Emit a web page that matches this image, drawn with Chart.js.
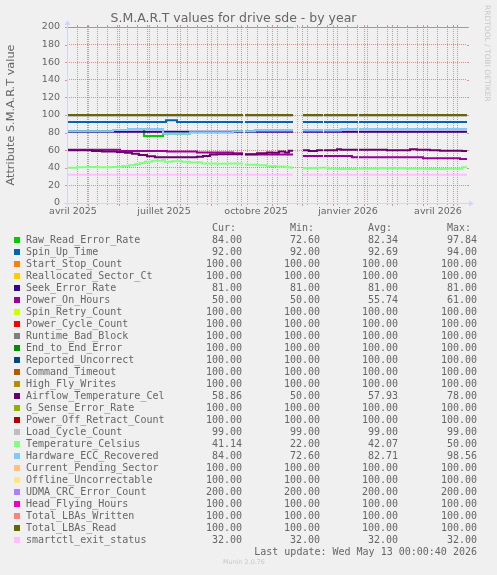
<!DOCTYPE html>
<html>
<head>
<meta charset="utf-8">
<title>S.M.A.R.T values for drive sde - by year</title>
<script src="https://cdn.jsdelivr.net/npm/chart.js@4.4.1/dist/chart.umd.min.js"></script>
<style>
  html, body { margin: 0; padding: 0; background: #f0f0f0; }
  #wrap { position: relative; width: 497px; height: 575px; overflow: hidden; color: #666; font-family: "DejaVu Sans", sans-serif; }
  #c { position: absolute; left: 0; top: 0; }
  #rrd { position: absolute; left: 487px; top: 5px; transform-origin: 0 0; transform: rotate(90deg) translateY(-50%);
         font-size: 7.5px; color: #c8c8c8; white-space: nowrap; line-height: 1; }
  #legend { position: absolute; left: 0; top: 0; width: 497px; height: 575px; font-family: "DejaVu Sans Mono", monospace; font-size: 10px; }
  .t { position: absolute; white-space: pre; line-height: 12px; height: 12px; }
  .r { text-align: right; }
  .sw { position: absolute; width: 6px; height: 6px; }
  #munin { position: absolute; top: 558px; left: 0; width: 488px; text-align: center; font-size: 6.4px; color: #c8c8c8; }
</style>
</head>
<body>
<div id="wrap">
  <canvas id="c" width="497" height="222"></canvas>
  <div id="rrd">RRDTOOL / TOBI OETIKER</div>
  <div id="legend"></div>
  <div id="munin">Munin 2.0.76</div>
</div>
<script>
// ---- data (x = days since 10 Apr 2025, one pixel per day) ----
const DAYS = 400;
const gaps = [[176, 178], [226, 236], [256, 257], [291, 292]];

const seriesNames = [
  'Raw_Read_Error_Rate', 'Spin_Up_Time', 'Start_Stop_Count', 'Reallocated_Sector_Ct',
  'Seek_Error_Rate', 'Power_On_Hours', 'Spin_Retry_Count', 'Power_Cycle_Count',
  'Runtime_Bad_Block', 'End_to_End_Error', 'Reported_Uncorrect', 'Command_Timeout',
  'High_Fly_Writes', 'Airflow_Temperature_Cel', 'G_Sense_Error_Rate', 'Power_Off_Retract_Count',
  'Load_Cycle_Count', 'Temperature_Celsius', 'Hardware_ECC_Recovered', 'Current_Pending_Sector',
  'Offline_Uncorrectable', 'UDMA_CRC_Error_Count', 'Head_Flying_Hours', 'Total_LBAs_Written',
  'Total_LBAs_Read', 'smartctl_exit_status'
];
const seriesColors = [
  '#00CC00', '#0066B3', '#FF8000', '#FFCC00', '#330099', '#990099', '#CCFF00', '#FF0000',
  '#808080', '#008F00', '#00487D', '#B35A00', '#B38F00', '#6B006B', '#8FB300', '#B30000',
  '#BEBEBE', '#80FF80', '#80C9FF', '#FFC080', '#FFE680', '#AA80FF', '#EE00CC', '#FF8080',
  '#666600', '#FFBFFF'
];
const curVals = [84, 92, 100, 100, 81, 50, 100, 100, 100, 100, 100, 100, 100, 58.86, 100, 100, 99, 41.14, 84, 100, 100, 200, 100, 100, 100, 32];
const minVals = [72.6, 92, 100, 100, 81, 50, 100, 100, 100, 100, 100, 100, 100, 50, 100, 100, 99, 22, 72.6, 100, 100, 200, 100, 100, 100, 32];
const avgVals = [82.34, 92.69, 100, 100, 81, 55.74, 100, 100, 100, 100, 100, 100, 100, 57.93, 100, 100, 99, 42.07, 82.71, 100, 100, 200, 100, 100, 100, 32];
const maxVals = [97.84, 94, 100, 100, 81, 61, 100, 100, 100, 100, 100, 100, 100, 78, 100, 100, 99, 50, 98.56, 100, 100, 200, 100, 100, 100, 32];

// runs: [first day, value] - value holds until the next run starts
const rawReadRuns = [[0, 81.5], [46, 83], [61, 84], [77, 76], [96, 79], [123, 80.5], [166, 81.5], [188, 82.5], [274, 84]];
const spinUpRuns = [[0, 92], [99, 94], [110, 92]];
const seekRuns = [[0, 81]];
const powerOnRuns = [[0, 60.5], [53, 59], [100, 58.5], [130, 57.5], [166, 56.5], [178, 55], [236, 53.5], [285, 52], [356, 50.8], [393, 50]];
const airflowRuns = [[0, 60], [25, 59], [35, 58.5], [50, 58], [58, 57], [65, 56], [72, 54.5], [80, 53], [88, 52], [130, 52.5],
  [136, 53.5], [143, 55], [150, 55.5], [190, 56.5], [200, 57.5], [205, 57], [212, 58.5], [218, 57.5], [222, 59.5],
  [236, 60], [242, 59], [250, 60], [270, 61], [274, 60.5], [320, 60], [343, 61], [350, 60.5], [363, 60], [373, 59.5], [395, 59]];
const loadCycleRuns = [[0, 99]];
const temperatureRuns = [[0, 40], [10, 40.5], [20, 41], [30, 40.5], [45, 41], [55, 42], [62, 43], [68, 44], [73, 45.5], [78, 47],
  [85, 48], [95, 49], [98, 47], [105, 47.5], [115, 47], [123, 46], [135, 45], [150, 44.5], [160, 45], [178, 43.5], [190, 43],
  [200, 42], [210, 41.5], [218, 40.5], [224, 40], [236, 39.5], [250, 40], [262, 39], [270, 38.5], [290, 39], [310, 39.5],
  [340, 39], [360, 38.5], [380, 39], [395, 40.5]];
const eccRuns = [[0, 81.5], [46, 83], [61, 84], [96, 79], [123, 80.5], [166, 81.5], [188, 82.5], [274, 84]];
const udmaRuns = [[0, 200]];
const exitStatusRuns = [[0, 32]];
const flatRuns = [[0, 100]];

const seriesRuns = [
  rawReadRuns, spinUpRuns, flatRuns, flatRuns, seekRuns, powerOnRuns, flatRuns, flatRuns,
  flatRuns, flatRuns, flatRuns, flatRuns, flatRuns, airflowRuns, flatRuns, flatRuns,
  loadCycleRuns, temperatureRuns, eccRuns, flatRuns, flatRuns, udmaRuns, flatRuns, flatRuns,
  flatRuns, exitStatusRuns
];

// x axis: month starts (major grid), 10-day minor grid, labels mid-month every 3 months
const monthStarts = [21, 52, 82, 113, 144, 174, 205, 235, 266, 297, 325, 356, 386];
const MINOR_STEP = 10;
const labelDays = [6, 97, 189, 281, 371];
const labelTexts = ['avril 2025', 'juillet 2025', 'octobre 2025', 'janvier 2026', 'avril 2026'];

const minorDays = [];
for (let d = MINOR_STEP; d < DAYS; d += MINOR_STEP) minorDays.push(d);

// rrdtool default grid colours, munin axis colour
const MGRID = 'rgba(222,79,79,0.6)';
const GRID = 'rgba(143,143,143,0.75)';
const AXIS = '#CFD6F8';

function buildPoints(runs) {
  const pts = [];
  let last = null;
  runs.forEach(([s, v], i) => {
    const e = i + 1 < runs.length ? runs[i + 1][0] : DAYS;
    let cur = s;
    for (const [g0, g1] of gaps) {
      if (g1 <= cur || g0 >= e) continue;
      if (g0 > cur) { pts.push({ x: cur, y: v }); pts.push({ x: g0, y: v }); }
      pts.push({ x: g0, y: null });
      cur = Math.max(cur, g1);
    }
    if (cur < e) { pts.push({ x: cur, y: v }); last = v; } else { last = null; }
  });
  if (last !== null) pts.push({ x: DAYS, y: last });
  return pts;
}

const datasets = seriesNames.map((name, i) => ({
  label: name,
  data: buildPoints(seriesRuns[i]),
  borderColor: seriesColors[i],
  backgroundColor: seriesColors[i],
  borderWidth: 2,
  stepped: 'before',
  pointRadius: 0,
  order: -i
}));

function gridColorX(v) {
  if (monthStarts.includes(v)) return MGRID;
  if (minorDays.includes(v)) return GRID;
  return null;
}
function gridColorY(v) {
  if (v === 0) return null;
  return v % 20 === 0 ? MGRID : GRID;
}

// small solid ticks at both ends of every grid line, as rrdtool draws them
const rrdTicks = {
  id: 'rrdTicks',
  beforeDatasetsDraw(chart) {
    const { ctx, chartArea: a, scales } = chart;
    ctx.save();
    ctx.lineWidth = 1;
    scales.x.ticks.forEach((t) => {
      const c = gridColorX(t.value);
      if (!c) return;
      const px = Math.round(scales.x.getPixelForValue(t.value)) + 0.5;
      ctx.strokeStyle = c;
      ctx.beginPath();
      ctx.moveTo(px, a.top - 2); ctx.lineTo(px, a.top);
      ctx.moveTo(px, a.bottom); ctx.lineTo(px, a.bottom + (c === MGRID ? 3 : 2));
      ctx.stroke();
    });
    scales.y.ticks.forEach((t) => {
      const c = gridColorY(t.value);
      if (!c) return;
      const py = Math.round(scales.y.getPixelForValue(t.value)) + 0.5;
      ctx.strokeStyle = c;
      ctx.beginPath();
      ctx.moveTo(a.left - 2, py); ctx.lineTo(a.left, py);
      ctx.moveTo(a.right, py); ctx.lineTo(a.right + 2, py);
      ctx.stroke();
    });
    ctx.restore();
  },
  afterDatasetsDraw(chart) {
    const { ctx, chartArea: a } = chart;
    const x0 = Math.round(a.left) + 0.5, y0 = Math.round(a.bottom) + 0.5;
    ctx.save();
    ctx.strokeStyle = AXIS;
    ctx.fillStyle = AXIS;
    ctx.lineWidth = 1;
    ctx.beginPath();
    ctx.moveTo(x0, a.bottom + 3); ctx.lineTo(x0, a.top - 3);
    ctx.moveTo(a.left - 3, y0); ctx.lineTo(a.right + 3, y0);
    ctx.stroke();
    ctx.beginPath();
    ctx.moveTo(x0 - 3, a.top - 2); ctx.lineTo(x0 + 3, a.top - 2); ctx.lineTo(x0, a.top - 7); ctx.closePath();
    ctx.moveTo(a.right + 2, y0 - 3); ctx.lineTo(a.right + 2, y0 + 3); ctx.lineTo(a.right + 7, y0); ctx.closePath();
    ctx.fill();
    ctx.restore();
  }
};

const tickFont = { family: 'DejaVu Sans', size: 9.5 };

new Chart(document.getElementById('c'), {
  type: 'line',
  data: { datasets },
  options: {
    responsive: false,
    animation: false,
    devicePixelRatio: 1,
    events: [],
    layout: { padding: { left: 0, right: 30, top: 0, bottom: 0 } },
    plugins: {
      legend: { display: false },
      tooltip: { enabled: false },
      title: {
        display: true,
        text: 'S.M.A.R.T values for drive sde - by year',
        color: '#666',
        font: { family: 'DejaVu Sans', size: 12.5, weight: 'normal' },
        padding: { top: 11, bottom: 1 }
      }
    },
    scales: {
      x: {
        type: 'linear',
        min: 0,
        max: DAYS,
        afterBuildTicks: (s) => {
          const vals = [...new Set([...monthStarts, ...minorDays, ...labelDays])].sort((p, q) => p - q);
          s.ticks = vals.map((v) => ({ value: v }));
        },
        afterFit: (s) => { s.height = 19; },
        ticks: {
          autoSkip: false,
          maxRotation: 0,
          padding: 3,
          color: '#666',
          font: tickFont,
          callback: (v) => { const k = labelDays.indexOf(v); return k >= 0 ? labelTexts[k] : ''; }
        },
        grid: {
          drawTicks: false,
          lineWidth: 1,
          color: (ctx) => gridColorX(ctx.tick && ctx.tick.value) || 'rgba(0,0,0,0)'
        },
        border: { display: false, dash: [1, 1] }
      },
      y: {
        min: 0,
        max: 200,
        afterFit: (s) => { s.width = 67; },
        ticks: {
          stepSize: 10,
          padding: 7,
          color: '#666',
          font: tickFont,
          callback: (v) => (v % 20 === 0 ? String(v) : '')
        },
        grid: {
          drawTicks: false,
          lineWidth: 1,
          color: (ctx) => gridColorY(ctx.tick && ctx.tick.value) || 'rgba(0,0,0,0)'
        },
        border: { display: false, dash: [1, 1] },
        title: {
          display: true,
          text: 'Attribute S.M.A.R.T value',
          color: '#666',
          font: { family: 'DejaVu Sans', size: 11.3 },
          padding: { top: 4, bottom: 0 }
        }
      }
    }
  },
  plugins: [rrdTicks]
});

// ---- legend below the graph, rrdtool style ----
const legend = document.getElementById('legend');
const ROW0 = 240, ROWH = 12;
const colEnds = [242, 320, 398, 477];
function addText(txt, left, right, cy) {
  const d = document.createElement('div');
  d.className = 't' + (right !== null ? ' r' : '');
  d.textContent = txt;
  d.style.top = (cy - 6) + 'px';
  if (right !== null) d.style.right = (497 - right) + 'px'; else d.style.left = left + 'px';
  legend.appendChild(d);
}
['Cur:', 'Min:', 'Avg:', 'Max:'].forEach((h, k) => addText(h, null, colEnds[k] - 6, ROW0 - ROWH));
seriesNames.forEach((name, i) => {
  const cy = ROW0 + i * ROWH;
  const sw = document.createElement('div');
  sw.className = 'sw';
  sw.style.left = '14px';
  sw.style.top = (cy - 3) + 'px';
  sw.style.background = seriesColors[i];
  legend.appendChild(sw);
  addText(name, 26, null, cy);
  [curVals, minVals, avgVals, maxVals].forEach((arr, k) => addText(arr[i].toFixed(2), null, colEnds[k], cy));
});
addText('Last update: Wed May 13 00:00:40 2026', null, 477, ROW0 + seriesNames.length * ROWH);
</script>
</body>
</html>
